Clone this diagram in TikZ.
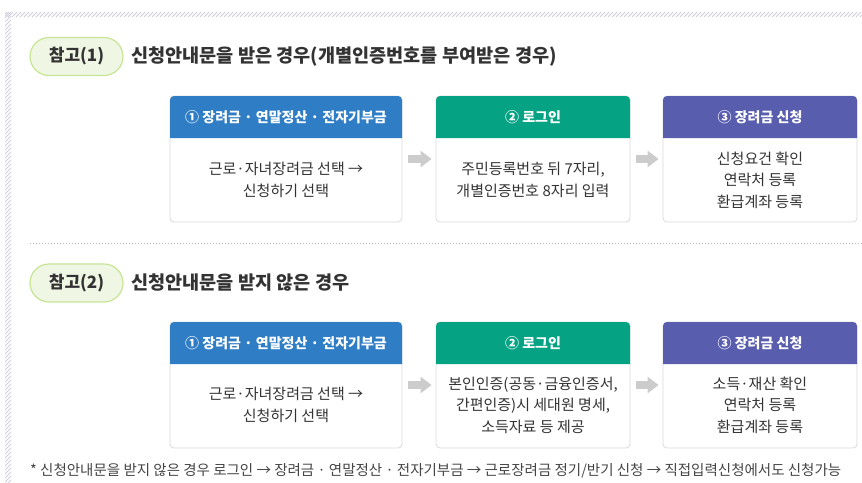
\documentclass[tikz,border=0pt]{standalone}
\usepackage{fontspec}
\setmainfont{Noto Sans CJK KR}
\usetikzlibrary{arrows.meta}
\definecolor{hdrblue}{HTML}{2F7DC5}
\definecolor{hdrgreen}{HTML}{05A384}
\definecolor{hdrpurple}{HTML}{585DAE}
\definecolor{boxline}{HTML}{DADADA}
\definecolor{txt}{HTML}{333333}
\definecolor{foot}{HTML}{444444}
\definecolor{pillfill}{HTML}{EFF6E3}
\definecolor{pillline}{HTML}{C6E595}
\definecolor{hatch}{HTML}{CED1DD}
\definecolor{arrowgray}{HTML}{CCCCCC}
\definecolor{sepline}{HTML}{BBBBBB}
\begin{document}
\begin{tikzpicture}[x=1pt,y=-1pt,
  box/.style={draw=boxline, line width=0.8pt, rounded corners=4pt, fill=white, minimum height=126pt, inner sep=0pt},
  hdrtext/.style={text=white, font=\fontsize{14}{16}\selectfont\bfseries, inner sep=0pt},
  body/.style={text=txt, align=center, font=\fontsize{15}{21.5}\selectfont, inner sep=0pt},
  pill/.style={draw=pillline, fill=pillfill, line width=1.2pt, rounded corners=19pt, minimum width=93pt, minimum height=38pt, inner sep=0pt, text=txt, font=\fontsize{17}{20}\selectfont\bfseries},
  title/.style={anchor=west, text=txt, font=\fontsize{18.6}{20}\selectfont\bfseries, inner sep=0pt},
  flow/.style={draw=arrowgray, line width=8pt, -{Triangle[width=16pt,length=11pt,fill=arrowgray]}, shorten <=6pt, shorten >=4pt}
]
\useasboundingbox (0,0) rectangle (862,482);
% hatched frame
\begin{scope}
\clip (5,12) rectangle (862,17);
\foreach \i in {0,4,...,880} \draw[hatch, line width=0.8pt] (\i,17) -- (\i+5,12);
\end{scope}
\begin{scope}
\clip (5,12) rectangle (11,482);
\foreach \j in {8,12,...,492} \draw[hatch, line width=0.8pt] (5,\j+6) -- (11,\j);
\end{scope}

% ---------- section 1 ----------
\node[pill] (p1) at (76.5,56.5) {참고(1)};
\node[title] (t1) at (131,56.5) {신청안내문을 받은 경우(개별인증번호를 부여받은 경우)};

\node[box, minimum width=232pt] (a1) at (286,159) {};
\node[box, minimum width=194pt] (a2) at (533,159) {};
\node[box, minimum width=194pt] (a3) at (760,159) {};
\fill[hdrblue] (170,138) {[rounded corners=4pt] -- (170,96) -- (402,96)} -- (402,138) -- cycle;
\fill[hdrgreen] (436,138) {[rounded corners=4pt] -- (436,96) -- (630,96)} -- (630,138) -- cycle;
\fill[hdrpurple] (663,138) {[rounded corners=4pt] -- (663,96) -- (857,96)} -- (857,138) -- cycle;
\node[hdrtext] (h11) at (286,117) {① 장려금 · 연말정산 · 전자기부금};
\node[hdrtext] (h12) at (533,117) {② 로그인};
\node[hdrtext] (h13) at (760,117) {③ 장려금 신청};
\node[body] (c11) at (286,180) {근로·자녀장려금 선택 →\\신청하기 선택};
\node[body] (c12) at (533,180) {주민등록번호 뒤 7자리,\\개별인증번호 8자리 입력};
\node[body] (c13) at (760,180) {신청요건 확인\\연락처 등록\\환급계좌 등록};
\draw[flow] (a1.east) -- (a2.west);
\draw[flow] (a2.east) -- (a3.west);

% separator
\coordinate (s1) at (30,243);
\coordinate (s2) at (862,243);
\draw[sepline, line width=0.8pt, dash pattern=on 1pt off 2pt] (s1) -- (s2);

% ---------- section 2 ----------
\node[pill] (p2) at (76.5,283) {참고(2)};
\node[title] (t2) at (131,283) {신청안내문을 받지 않은 경우};

\node[box, minimum width=232pt] (b1) at (286,385) {};
\node[box, minimum width=194pt] (b2) at (533,385) {};
\node[box, minimum width=194pt] (b3) at (760,385) {};
\fill[hdrblue] (170,364) {[rounded corners=4pt] -- (170,322) -- (402,322)} -- (402,364) -- cycle;
\fill[hdrgreen] (436,364) {[rounded corners=4pt] -- (436,322) -- (630,322)} -- (630,364) -- cycle;
\fill[hdrpurple] (663,364) {[rounded corners=4pt] -- (663,322) -- (857,322)} -- (857,364) -- cycle;
\node[hdrtext] (h21) at (286,343) {① 장려금 · 연말정산 · 전자기부금};
\node[hdrtext] (h22) at (533,343) {② 로그인};
\node[hdrtext] (h23) at (760,343) {③ 장려금 신청};
\node[body] (c21) at (286,405) {근로·자녀장려금 선택 →\\신청하기 선택};
\node[body] (c22) at (533,405) {본인인증(공동·금융인증서,\\간편인증)시 세대원 명세,\\소득자료 등 제공};
\node[body] (c23) at (760,405) {소득·재산 확인\\연락처 등록\\환급계좌 등록};
\draw[flow] (b1.east) -- (b2.west);
\draw[flow] (b2.east) -- (b3.west);

% footnote
\node[anchor=west, inner sep=0pt, text=foot, font=\fontsize{14.5}{16}\selectfont] (fn) at (30,471) {* 신청안내문을 받지 않은 경우 로그인 → 장려금 · 연말정산 · 전자기부금 → 근로장려금 정기/반기 신청 → 직접입력신청에서도 신청가능};
\end{tikzpicture}
\end{document}
